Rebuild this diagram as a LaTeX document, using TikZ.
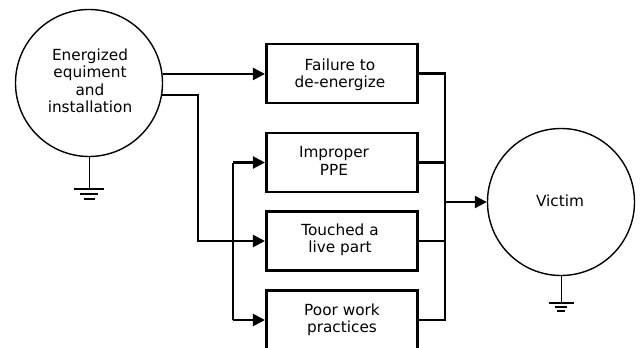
\documentclass[tikz,border=0pt]{standalone}
\usepackage{fontspec}
\setmainfont{DejaVu Sans}
\usetikzlibrary{arrows.meta,calc}
\begin{document}
\begin{tikzpicture}[x=1pt,y=-1pt,
  txt/.style={font=\fontsize{15.3}{17.5}\selectfont,align=center,inner sep=0pt},
  circ/.style={circle,draw,line width=1.4pt,minimum size=147pt,inner sep=0pt},
  boxn/.style={rectangle,draw,line width=2.6pt,minimum width=151.5pt,minimum height=59pt,inner sep=0pt},
  arr/.style={line width=2.2pt,-{Triangle[length=12pt,width=12pt]},line join=miter},
  bus/.style={line width=2.6pt,line join=miter,line cap=rect},
  gv/.style={line width=1pt},
  gh/.style={line width=2pt}]
\useasboundingbox (0,0) rectangle (640,348);
\clip (0,0) rectangle (640,348);
% nodes
\node[circ] (c1) at (89,83) {};
\node[txt] (t1) at (90,81) {Energized\\equiment\\and\\installation};
\node[circ] (v) at (561,202) {};
\node[txt] (tv) at (560,201) {Victim};
\node[boxn] (b1) at (342,73.5) {};
\node[txt] (tb1) at (340,75) {Failure to\\de-energize};
\node[boxn] (b2) at (342,162.5) {};
\node[txt] (tb2) at (334,161) {Improper\\PPE};
\node[boxn] (b3) at (342,241) {};
\node[txt] (tb3) at (340,240) {Touched a\\live part};
\node[boxn] (b4) at (342,320) {};
\node[txt] (tb4) at (342,320) {Poor work\\practices};
% helper coordinates
\coordinate (j1) at (198,0);
\coordinate (j2) at (233,0);
\coordinate (bus) at (445,0);
\coordinate (g1) at (89,189);
\coordinate (g2) at (561,303);
% connectors from source
\draw[arr] (c1.7.8) -- (c1.7.8 -| b1.west);
\draw[arr] (c1.-9.3) -- (c1.-9.3 -| j1) |- (b3.west);
\draw[line width=2.2pt] (j2 |- b2.west) -- (j2 |- b4.west);
\draw[arr] (j2 |- b2.west) -- (b2.west);
\draw[arr] (j2 |- b4.west) -- (b4.west);
% bus to victim
\draw[bus] (b1.east) -- (b1.east -| bus) -- (b4.east -| bus) -- (b4.east);
\draw[bus] (b2.east) -- (b2.east -| bus);
\draw[bus] (b3.east) -- (b3.east -| bus);
\draw[arr] (v.west -| bus) -- (v.west);
% grounds
\draw[gv] (c1.south) -- (g1);
\draw[gh] ($(g1)+(-15,0)$) -- ($(g1)+(15,0)$);
\draw[gh] ($(g1)+(-9,5)$) -- ($(g1)+(9,5)$);
\draw[gh] ($(g1)+(-5.5,10)$) -- ($(g1)+(5.5,10)$);
\draw[gv] (v.south) -- (g2);
\draw[gh] ($(g2)+(-12.5,0)$) -- ($(g2)+(12.5,0)$);
\draw[gh] ($(g2)+(-6,4)$) -- ($(g2)+(6,4)$);
\draw[gh] ($(g2)+(-4,8)$) -- ($(g2)+(4,8)$);
\end{tikzpicture}
\end{document}
